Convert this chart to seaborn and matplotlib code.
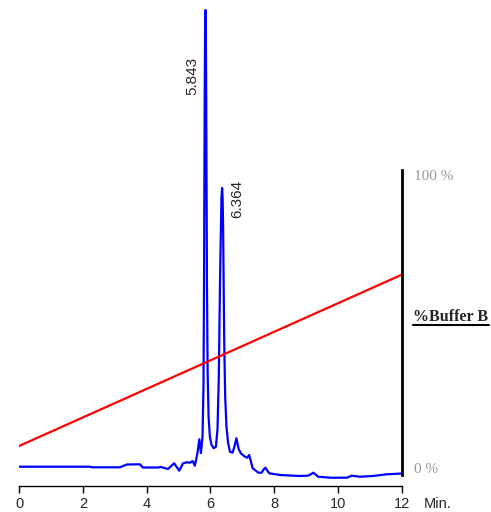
import numpy as np
import pandas as pd
import matplotlib
matplotlib.use("Agg")
import matplotlib.pyplot as plt
import seaborn as sns
from matplotlib.lines import Line2D

# ---------------- data ----------------
time_min = [0.00, 2.22, 2.29, 3.16, 3.38, 3.79, 3.88, 4.35, 4.45, 4.67, 4.86, 5.02,
            5.14, 5.26, 5.36, 5.44, 5.51, 5.59, 5.65, 5.70, 5.75, 5.78, 5.80, 5.81,
            5.82, 5.83, 5.843, 5.855, 5.865, 5.875, 5.89, 5.91, 5.94, 5.98, 6.03,
            6.10, 6.17, 6.22, 6.26, 6.30, 6.33, 6.345, 6.364, 6.38, 6.395, 6.41,
            6.43, 6.46, 6.50, 6.55, 6.61, 6.69, 6.75, 6.81, 6.88, 6.95, 7.08,
            7.15, 7.21, 7.26, 7.32, 7.50, 7.60, 7.66, 7.72, 7.78, 7.84, 8.18, 8.80,
            9.05, 9.15, 9.22, 9.30, 9.37, 9.75, 10.28, 10.42, 10.68, 11.09, 11.52, 12.00]
signal = [0.0, 0.0, -0.6, -0.6, 2.2, 2.4, -0.8, -0.8, -0.3, -2.3, 3.4, -4.0,
          3.4, 4.4, 4.0, 5.7, 1.0, 13.4, 27.4, 13.7, 30.0, 80.0, 200.0, 300.0,
          380.0, 432.0, 456.7, 432.0, 370.0, 290.0, 180.0, 95.0, 50.0, 30.0, 22.0,
          18.5, 20.0, 38.0, 90.0, 190.0, 245.0, 270.0, 278.7, 268.0, 240.0, 190.0,
          125.0, 70.0, 40.0, 24.0, 15.0, 14.0, 20.0, 28.4, 18.0, 13.4, 10.0,
          9.0, 11.7, 6.0, -1.5, -6.0, -6.0, -3.0, -1.0, -4.0, -6.6, -8.3, -9.3,
          -9.0, -7.5, -6.0, -8.0, -10.0, -11.0, -11.0, -9.0, -10.0, -9.3, -7.6, -6.8]

gradient_time = [0.0, 12.0]
buffer_b_pct = [7.5, 66.0]

peak_times = [5.843, 6.364]
peak_labels = ["5.843", "6.364"]

x_ticks = [0, 2, 4, 6, 8, 10, 12]
x_tick_labels = ["0", "2", "4", "6", "8", "10", "12"]
pct_ticks = [0, 100]
pct_tick_labels = ["0 %", "100 %"]

trace_df = pd.DataFrame({"time": time_min, "signal": signal})
grad_df = pd.DataFrame({"time": gradient_time, "pct": buffer_b_pct})

# ---------------- style ----------------
sns.set_theme(style="white")
plt.rcParams["font.family"] = ["Liberation Sans", "DejaVu Sans"]

W, H = 491, 512
fig = plt.figure(figsize=(W / 100, H / 100), dpi=100)
ax = fig.add_axes([19 / W, 1 - 486 / H, 383 / W, 486 / H])
ax.patch.set_alpha(0)

sns.lineplot(data=trace_df, x="time", y="signal", color="#0000ff", lw=1.6,
             estimator=None, sort=False, ax=ax)
ax.set_xlim(0, 12)
ax.set_ylim(-19.3, 466.7)
for s in ["left", "top", "right"]:
    ax.spines[s].set_visible(False)
ax.spines["bottom"].set_color("black")
ax.spines["bottom"].set_linewidth(1.0)
ax.set_yticks([])
ax.set_xticks(x_ticks)
ax.set_xticklabels(x_tick_labels)
ax.tick_params(axis="x", direction="out", length=5, width=1, color="black",
               labelsize=10.5, pad=3, bottom=True)
ax.set_xlabel("")
ax.set_ylabel("")

fig.text(424 / W, 1 - 504 / H, "Min.", fontsize=10.5, va="center", ha="left")

# peak labels
sig_arr = np.array(signal)
t_arr = np.array(time_min)
offsets = [(-9.8, -47.5), (10.6, -7.9)]
for pt, lab, off in zip(peak_times, peak_labels, offsets):
    h = sig_arr[np.argmin(np.abs(t_arr - pt))]
    ax.annotate(lab, xy=(pt, h), xytext=off, textcoords="offset points",
                rotation=90, ha="center", va="center", fontsize=11)

# gradient axis
ax2 = ax.twinx()
ax2.patch.set_alpha(0)
sns.lineplot(data=grad_df, x="time", y="pct", color="#ff0000", lw=1.6,
             estimator=None, ax=ax2)
ax2.set_ylim(-6.14, 159.7)
for s in ["left", "top", "bottom"]:
    ax2.spines[s].set_visible(False)
ax2.spines["right"].set_visible(True)
ax2.spines["right"].set_color("black")
ax2.spines["right"].set_linewidth(2.0)
ax2.spines["right"].set_bounds(-2.4, 101.7)
ax2.set_yticks(pct_ticks)
ax2.set_yticklabels(pct_tick_labels, family=["Liberation Serif", "DejaVu Serif"],
                    color="#999999", fontsize=11)
ax2.tick_params(axis="y", length=0, pad=9, right=True)
ax2.set_ylabel("")
ax2.set_xlabel("")

fig.text(413 / W, 1 - 317 / H, "%Buffer B", fontsize=11.5, fontweight="bold",
         family=["Liberation Serif", "DejaVu Serif"], va="center", ha="left")
fig.add_artist(Line2D([413 / W, 489 / W], [1 - 324.5 / H] * 2, lw=1.5, color="black"))

fig.savefig("out.png", dpi=100)
